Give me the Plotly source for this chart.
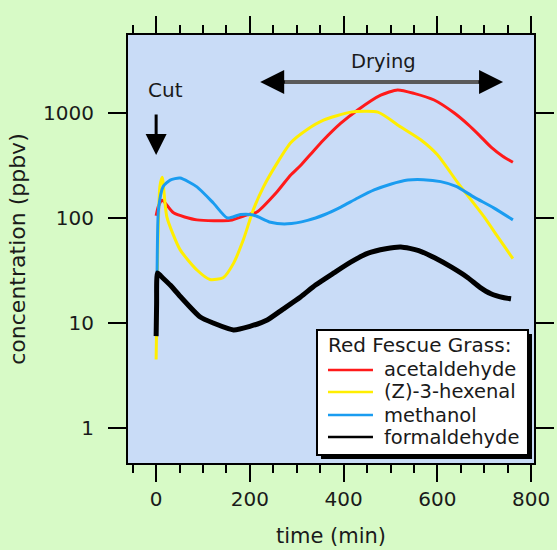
import plotly.graph_objects as go

# ---- data ----
t_acet = [0, 5, 13, 37, 87, 158, 194, 215, 258, 287, 308, 330, 357, 394, 430, 479, 515, 550, 593, 636, 665, 690, 715, 740, 761]
v_acet = [105, 130, 148, 112, 96, 95, 107, 114, 178, 257, 316, 407, 553, 800, 1070, 1480, 1660, 1540, 1330, 1000, 780, 610, 470, 385, 340]

t_hex = [0, 3, 8, 13, 23, 51, 87, 115, 143, 165, 186, 207, 229, 258, 287, 323, 357, 415, 473, 522, 565, 600, 644, 700, 730, 761]
v_hex = [4.5, 40, 200, 245, 102, 50, 32, 26, 27, 37, 62, 119, 198, 333, 520, 700, 855, 1020, 1020, 735, 553, 400, 215, 102, 65, 41]

t_meth = [0, 2, 5, 15, 30, 51, 87, 122, 152, 180, 207, 244, 280, 323, 360, 394, 430, 465, 500, 537, 570, 607, 640, 678, 720, 761]
v_meth = [12, 30, 120, 200, 230, 240, 198, 139, 100, 108, 107, 91, 88, 95, 108, 127, 155, 185, 210, 230, 232, 222, 200, 158, 125, 96]

t_form = [0, 1, 3, 10, 30, 51, 94, 122, 165, 200, 237, 270, 308, 340, 379, 415, 451, 490, 522, 560, 593, 630, 665, 690, 714, 740, 757]
v_form = [7.5, 15, 30, 28, 23, 18, 11.4, 10, 8.6, 9.3, 10.7, 13.5, 17.7, 23, 30, 38, 46, 51, 53, 49, 42, 34, 27, 22, 19, 17.5, 17]

names = ["acetaldehyde", "(Z)-3-hexenal", "methanol", "formaldehyde"]
colors = ["#ff1a1a", "#ffee00", "#1a9cf0", "#000000"]
widths = [3, 3, 3, 5]
legend_title = "Red Fescue Grass:"
y_ticks = [1, 10, 100, 1000]
y_ticktext = ["1", "10", "100", "1000"]

FONT = "DejaVu Sans"
TXT = "#1a1a1a"

fig = go.Figure()
for t, v, n, c, w in zip([t_acet, t_hex, t_meth, t_form], [v_acet, v_hex, v_meth, v_form], names, colors, widths):
    fig.add_trace(go.Scatter(x=t, y=v, mode="lines", name=n, showlegend=False,
                             line=dict(color=c, width=w, shape="spline", smoothing=0.6)))

fig.update_layout(
    width=557, height=550,
    margin=dict(l=128, r=23, t=35, b=87, autoexpand=False),
    paper_bgcolor="#d7fac6",
    plot_bgcolor="#c9dcf7",
    font=dict(family=FONT, size=20, color=TXT),
    showlegend=False,
)

fig.update_xaxes(
    range=[-60, 806], showgrid=False, zeroline=False,
    showline=True, linecolor="black", linewidth=2, mirror="ticks",
    ticks="outside", tickmode="linear", tick0=0, dtick=200,
    ticklen=17, tickwidth=2, tickcolor="black",
    minor=dict(ticks="outside", dtick=50, tick0=0, ticklen=8, tickwidth=1.5, tickcolor="black", showgrid=False),
    tickfont=dict(size=20),
    title=dict(text="time (min)", font=dict(size=21), standoff=18),
)
fig.update_yaxes(
    type="log", range=[-0.333, 3.743], showgrid=False, zeroline=False,
    showline=True, linecolor="black", linewidth=2, mirror="ticks",
    ticks="outside", tickvals=y_ticks, ticktext=y_ticktext,
    ticklen=18, tickwidth=2, tickcolor="black", ticklabelstandoff=10,
    tickfont=dict(size=20),
    title=dict(text="concentration (ppbv)", font=dict(size=22), standoff=11),
)

# ---- legend box (drawn) ----
fig.add_shape(type="rect", xref="paper", yref="paper",
              x0=0.4754, x1=0.9951, y0=0.0093, y1=0.3014,
              fillcolor="black", line=dict(width=0), layer="above")
fig.add_shape(type="rect", xref="paper", yref="paper",
              x0=0.4655, x1=0.9852, y0=0.0187, y1=0.3107,
              fillcolor="white", line=dict(color="black", width=2), layer="above")
fig.add_annotation(x=0.4877, y=0.2757, xref="paper", yref="paper", text=legend_title,
                   showarrow=False, xanchor="left", yanchor="middle",
                   font=dict(size=20, family=FONT, color=TXT))
entry_y = [0.2173, 0.1659, 0.1121, 0.0607]
for n, c, ey in zip(names, colors, entry_y):
    fig.add_shape(type="line", xref="paper", yref="paper", x0=0.4926, x1=0.6034, y0=ey, y1=ey,
                  line=dict(color=c, width=2.5), layer="above")
    fig.add_annotation(x=0.6256, y=ey, xref="paper", yref="paper", text=n,
                       showarrow=False, xanchor="left", yanchor="middle",
                       font=dict(size=19.5, family=FONT, color=TXT))

# "Cut" annotation
fig.add_annotation(x=19, y=3.219, xref="x", yref="y", text="Cut", showarrow=False,
                   font=dict(size=20, family=FONT, color=TXT))
fig.add_annotation(x=0, y=2.6, xref="x", yref="y", text="", showarrow=True,
                   ax=0, ay=-42, arrowhead=2, arrowsize=1.4, arrowwidth=3, arrowcolor="black")

# "Drying" annotation
fig.add_annotation(x=486, y=3.49, xref="x", yref="y", text="Drying", showarrow=False,
                   font=dict(size=19.5, family=FONT, color=TXT))
fig.add_shape(type="line", xref="x", yref="y", x0=240, x1=722, y0=10 ** 3.295, y1=10 ** 3.295,
              line=dict(color="#5a5a5a", width=4), layer="above")
fig.add_annotation(x=222, y=3.295, xref="x", yref="y", text="", showarrow=True,
                   ax=26, ay=0, arrowhead=2, arrowsize=1.6, arrowwidth=3, arrowcolor="black")
fig.add_annotation(x=740, y=3.295, xref="x", yref="y", text="", showarrow=True,
                   ax=-26, ay=0, arrowhead=2, arrowsize=1.6, arrowwidth=3, arrowcolor="black")

fig.write_html("out.html")
